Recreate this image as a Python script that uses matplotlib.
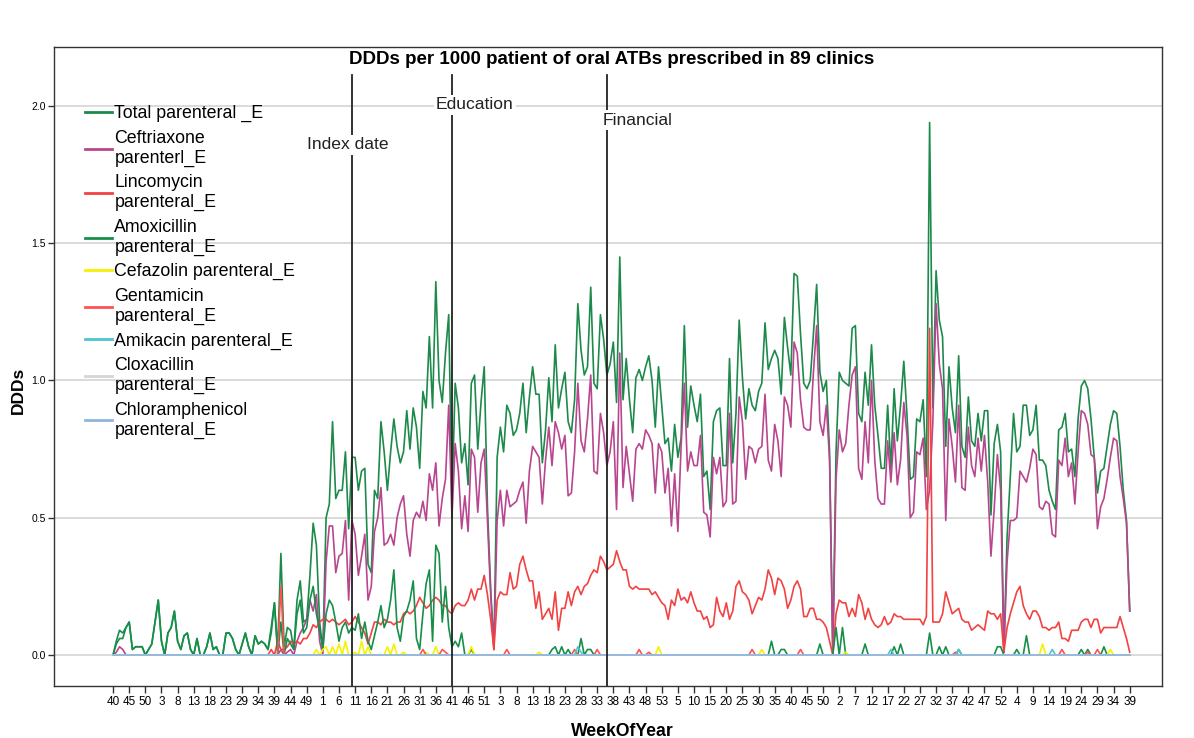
# DDDs per 1000 patient of parenteral ATBs - weekly line chart (SPSS style)

import numpy as np
import matplotlib
matplotlib.use("Agg")
import matplotlib.pyplot as plt

plt.rcParams['font.family'] = ['Liberation Sans', 'DejaVu Sans']

# ================================
# DATA (one value per week)
# ================================

week_labels = ["40", "45", "50", "3", "8", "13", "18", "23", "29", "34", "39", "44", "49",
               "1", "6", "11", "16", "21", "26", "31", "36", "41", "46", "51",
               "3", "8", "13", "18", "23", "28", "33", "38", "43", "48", "53",
               "5", "10", "15", "20", "25", "30", "35", "40", "45", "50",
               "2", "7", "12", "17", "22", "27", "32", "37", "42", "47", "52",
               "4", "9", "14", "19", "24", "29", "34", "39"]

total_parenteral = [
    0.00, 0.05, 0.09, 0.08, 0.10, 0.12, 0.02, 0.03, 0.03, 0.03, 0.00, 0.02, 0.04, 0.12, 0.20, 0.05, 0.00, 0.08, 0.10, 0.16,
    0.05, 0.02, 0.07, 0.08, 0.02, 0.00, 0.06, 0.00, 0.00, 0.03, 0.08, 0.02, 0.03, 0.00, 0.00, 0.08, 0.08, 0.06, 0.02, 0.00,
    0.04, 0.08, 0.03, 0.00, 0.07, 0.04, 0.05, 0.04, 0.02, 0.10, 0.19, 0.02, 0.37, 0.03, 0.10, 0.09, 0.02, 0.20, 0.27, 0.12,
    0.13, 0.29, 0.48, 0.40, 0.12, 0.02, 0.50, 0.55, 0.85, 0.57, 0.60, 0.60, 0.74, 0.46, 0.72, 0.72, 0.60, 0.67, 0.68, 0.33,
    0.30, 0.60, 0.57, 0.85, 0.74, 0.60, 0.74, 0.86, 0.76, 0.70, 0.74, 0.89, 0.75, 0.90, 0.83, 0.68, 0.96, 0.90, 1.16, 0.90,
    1.36, 1.00, 0.92, 1.10, 1.24, 0.56, 0.99, 0.90, 0.70, 0.77, 0.62, 0.99, 1.02, 0.75, 0.92, 1.05, 0.54, 0.24, 0.02, 0.72,
    0.83, 0.74, 0.91, 0.88, 0.80, 0.82, 0.88, 0.99, 0.81, 0.94, 1.05, 0.95, 0.95, 0.70, 0.82, 1.01, 0.85, 1.13, 0.90, 0.97,
    1.03, 0.85, 0.81, 0.93, 1.28, 1.11, 1.02, 1.05, 1.34, 0.99, 0.97, 1.24, 1.15, 1.02, 1.06, 1.14, 0.92, 1.45, 0.93, 1.08,
    0.93, 0.81, 1.01, 1.04, 1.00, 1.05, 1.09, 1.00, 0.83, 1.05, 0.91, 0.77, 0.79, 0.67, 0.84, 0.72, 0.79, 1.20, 0.83, 0.98,
    0.91, 0.85, 0.95, 0.65, 0.67, 0.53, 0.85, 0.89, 0.90, 0.69, 0.69, 1.08, 0.70, 0.88, 1.22, 1.01, 0.86, 0.97, 0.91, 0.89,
    0.96, 0.99, 1.21, 1.04, 1.08, 1.11, 1.08, 0.95, 1.23, 1.12, 1.02, 1.39, 1.38, 1.17, 0.99, 0.97, 1.00, 1.17, 1.35, 1.03,
    0.96, 1.00, 0.74, 0.00, 0.74, 1.03, 1.00, 0.99, 0.98, 1.19, 1.20, 0.88, 0.85, 1.03, 0.91, 1.13, 0.91, 0.80, 0.68, 0.68,
    0.91, 0.68, 0.97, 0.78, 0.91, 1.07, 0.87, 0.64, 0.65, 0.86, 0.85, 0.93, 0.65, 1.94, 0.90, 1.40, 1.22, 1.16, 0.76, 1.05,
    0.90, 0.81, 1.09, 0.76, 0.72, 0.94, 0.78, 0.76, 0.88, 0.78, 0.89, 0.89, 0.51, 0.77, 0.84, 0.74, 0.01, 0.43, 0.65, 0.88,
    0.74, 0.76, 0.91, 0.91, 0.80, 0.82, 0.91, 0.71, 0.71, 0.69, 0.60, 0.56, 0.53, 0.82, 0.83, 0.88, 0.74, 0.75, 0.65, 0.86,
    0.98, 1.00, 0.97, 0.86, 0.72, 0.59, 0.67, 0.68, 0.76, 0.84, 0.89, 0.88, 0.76, 0.60, 0.49, 0.16]

ceftriaxone = [
    0.00, 0.01, 0.03, 0.02, 0.00, 0.00, 0.00, 0.00, 0.00, 0.00, 0.00, 0.00, 0.00, 0.00, 0.00, 0.00, 0.00, 0.00, 0.00, 0.00,
    0.00, 0.00, 0.00, 0.00, 0.00, 0.00, 0.00, 0.00, 0.00, 0.00, 0.00, 0.00, 0.00, 0.00, 0.00, 0.00, 0.00, 0.00, 0.00, 0.00,
    0.00, 0.00, 0.00, 0.00, 0.00, 0.00, 0.00, 0.00, 0.00, 0.00, 0.00, 0.00, 0.02, 0.00, 0.01, 0.02, 0.00, 0.05, 0.08, 0.10,
    0.13, 0.20, 0.16, 0.22, 0.05, 0.00, 0.34, 0.47, 0.47, 0.30, 0.36, 0.37, 0.49, 0.20, 0.49, 0.44, 0.29, 0.36, 0.44, 0.20,
    0.25, 0.45, 0.50, 0.61, 0.40, 0.41, 0.44, 0.40, 0.50, 0.55, 0.58, 0.44, 0.36, 0.49, 0.52, 0.50, 0.56, 0.49, 0.66, 0.60,
    0.70, 0.47, 0.57, 0.64, 0.91, 0.50, 0.77, 0.67, 0.46, 0.58, 0.45, 0.75, 0.72, 0.52, 0.70, 0.75, 0.49, 0.22, 0.02, 0.49,
    0.60, 0.47, 0.60, 0.54, 0.55, 0.56, 0.60, 0.63, 0.48, 0.67, 0.76, 0.74, 0.72, 0.55, 0.71, 0.83, 0.69, 0.85, 0.81, 0.75,
    0.80, 0.58, 0.59, 0.74, 0.99, 0.78, 0.74, 0.86, 1.02, 0.67, 0.66, 0.88, 0.81, 0.69, 0.74, 0.85, 0.53, 1.10, 0.61, 0.76,
    0.66, 0.56, 0.75, 0.77, 0.75, 0.82, 0.80, 0.77, 0.59, 0.77, 0.74, 0.59, 0.68, 0.47, 0.66, 0.45, 0.76, 0.99, 0.67, 0.74,
    0.69, 0.69, 0.80, 0.52, 0.51, 0.43, 0.72, 0.66, 0.72, 0.54, 0.56, 0.88, 0.55, 0.56, 0.94, 0.85, 0.64, 0.76, 0.75, 0.70,
    0.75, 0.76, 0.95, 0.71, 0.67, 0.84, 0.78, 0.65, 0.94, 0.91, 0.83, 1.14, 1.10, 0.93, 0.83, 0.82, 0.82, 1.03, 1.20, 0.85,
    0.80, 0.91, 0.71, 0.00, 0.64, 0.82, 0.74, 0.77, 0.91, 1.02, 1.05, 0.68, 0.64, 0.85, 0.70, 1.00, 0.71, 0.57, 0.55, 0.55,
    0.78, 0.63, 0.81, 0.62, 0.71, 0.92, 0.80, 0.50, 0.52, 0.74, 0.73, 0.79, 0.53, 0.60, 0.85, 1.28, 1.06, 0.97, 0.49, 0.86,
    0.76, 0.63, 0.91, 0.61, 0.60, 0.83, 0.69, 0.65, 0.79, 0.67, 0.80, 0.63, 0.36, 0.53, 0.73, 0.60, 0.01, 0.34, 0.49, 0.49,
    0.50, 0.67, 0.65, 0.63, 0.68, 0.75, 0.73, 0.54, 0.53, 0.56, 0.55, 0.44, 0.43, 0.71, 0.69, 0.79, 0.65, 0.70, 0.55, 0.74,
    0.89, 0.88, 0.84, 0.73, 0.72, 0.46, 0.54, 0.57, 0.64, 0.72, 0.79, 0.78, 0.65, 0.57, 0.48, 0.16]

lincomycin = [
    0.00, 0.00, 0.00, 0.00, 0.00, 0.00, 0.00, 0.00, 0.00, 0.00, 0.00, 0.00, 0.00, 0.00, 0.00, 0.00, 0.00, 0.00, 0.00, 0.00,
    0.00, 0.00, 0.00, 0.00, 0.00, 0.00, 0.00, 0.00, 0.00, 0.00, 0.00, 0.00, 0.00, 0.00, 0.00, 0.00, 0.00, 0.00, 0.00, 0.00,
    0.00, 0.00, 0.00, 0.00, 0.00, 0.00, 0.00, 0.00, 0.00, 0.02, 0.00, 0.05, 0.02, 0.02, 0.03, 0.05, 0.04, 0.05, 0.04, 0.06,
    0.06, 0.08, 0.11, 0.10, 0.12, 0.13, 0.13, 0.12, 0.13, 0.12, 0.11, 0.12, 0.13, 0.11, 0.12, 0.14, 0.12, 0.10, 0.08, 0.04,
    0.08, 0.12, 0.12, 0.11, 0.13, 0.12, 0.12, 0.11, 0.12, 0.12, 0.15, 0.16, 0.15, 0.16, 0.18, 0.21, 0.19, 0.17, 0.18, 0.20,
    0.21, 0.20, 0.18, 0.18, 0.16, 0.15, 0.18, 0.19, 0.18, 0.18, 0.20, 0.24, 0.20, 0.24, 0.24, 0.29, 0.22, 0.13, 0.02, 0.20,
    0.23, 0.22, 0.22, 0.30, 0.24, 0.25, 0.33, 0.36, 0.31, 0.27, 0.27, 0.17, 0.23, 0.13, 0.15, 0.17, 0.13, 0.23, 0.09, 0.17,
    0.17, 0.23, 0.18, 0.23, 0.25, 0.22, 0.25, 0.26, 0.29, 0.31, 0.30, 0.36, 0.34, 0.31, 0.32, 0.33, 0.38, 0.34, 0.31, 0.31,
    0.25, 0.24, 0.25, 0.24, 0.24, 0.24, 0.24, 0.22, 0.23, 0.21, 0.19, 0.18, 0.13, 0.20, 0.18, 0.24, 0.20, 0.21, 0.19, 0.23,
    0.19, 0.16, 0.16, 0.13, 0.14, 0.10, 0.11, 0.21, 0.16, 0.14, 0.19, 0.13, 0.16, 0.25, 0.27, 0.23, 0.22, 0.20, 0.15, 0.18,
    0.21, 0.20, 0.24, 0.31, 0.28, 0.22, 0.28, 0.27, 0.24, 0.17, 0.20, 0.25, 0.27, 0.24, 0.14, 0.14, 0.17, 0.17, 0.13, 0.13,
    0.12, 0.10, 0.05, 0.00, 0.15, 0.20, 0.19, 0.19, 0.14, 0.17, 0.14, 0.22, 0.19, 0.13, 0.17, 0.13, 0.11, 0.10, 0.11, 0.14,
    0.11, 0.12, 0.15, 0.14, 0.14, 0.13, 0.13, 0.13, 0.13, 0.13, 0.13, 0.11, 0.14, 1.19, 0.12, 0.12, 0.12, 0.15, 0.23, 0.19,
    0.15, 0.16, 0.17, 0.13, 0.12, 0.12, 0.09, 0.10, 0.11, 0.10, 0.09, 0.16, 0.15, 0.15, 0.13, 0.15, 0.01, 0.10, 0.15, 0.19,
    0.23, 0.25, 0.18, 0.15, 0.13, 0.16, 0.16, 0.14, 0.10, 0.10, 0.09, 0.10, 0.10, 0.12, 0.06, 0.06, 0.05, 0.09, 0.09, 0.09,
    0.12, 0.13, 0.13, 0.10, 0.13, 0.13, 0.08, 0.10, 0.10, 0.10, 0.10, 0.10, 0.14, 0.10, 0.06, 0.01]

amoxicillin = [
    0.00, 0.04, 0.06, 0.06, 0.10, 0.12, 0.02, 0.03, 0.03, 0.03, 0.00, 0.02, 0.04, 0.12, 0.20, 0.05, 0.00, 0.08, 0.10, 0.16,
    0.05, 0.02, 0.07, 0.08, 0.02, 0.00, 0.06, 0.00, 0.00, 0.03, 0.08, 0.02, 0.03, 0.00, 0.00, 0.08, 0.08, 0.06, 0.02, 0.00,
    0.04, 0.08, 0.03, 0.00, 0.07, 0.04, 0.05, 0.04, 0.02, 0.08, 0.19, 0.00, 0.12, 0.00, 0.06, 0.04, 0.02, 0.15, 0.20, 0.08,
    0.10, 0.20, 0.25, 0.15, 0.09, 0.02, 0.15, 0.20, 0.18, 0.12, 0.05, 0.10, 0.12, 0.08, 0.10, 0.09, 0.15, 0.06, 0.12, 0.05,
    0.02, 0.07, 0.12, 0.18, 0.10, 0.13, 0.20, 0.31, 0.10, 0.05, 0.14, 0.16, 0.20, 0.27, 0.06, 0.02, 0.15, 0.26, 0.31, 0.05,
    0.40, 0.37, 0.12, 0.25, 0.10, 0.03, 0.05, 0.03, 0.08, 0.00, 0.00, 0.02, 0.00, 0.00, 0.00, 0.00, 0.00, 0.00, 0.00, 0.00,
    0.00, 0.00, 0.00, 0.00, 0.00, 0.00, 0.00, 0.00, 0.00, 0.00, 0.00, 0.00, 0.00, 0.00, 0.00, 0.00, 0.02, 0.03, 0.00, 0.03,
    0.00, 0.02, 0.00, 0.00, 0.00, 0.06, 0.00, 0.02, 0.02, 0.00, 0.00, 0.00, 0.00, 0.00, 0.00, 0.00, 0.00, 0.00, 0.00, 0.00,
    0.00, 0.00, 0.00, 0.00, 0.00, 0.00, 0.00, 0.00, 0.00, 0.00, 0.00, 0.00, 0.00, 0.00, 0.00, 0.00, 0.00, 0.00, 0.00, 0.00,
    0.00, 0.00, 0.00, 0.00, 0.00, 0.00, 0.00, 0.00, 0.00, 0.00, 0.00, 0.00, 0.00, 0.00, 0.00, 0.00, 0.00, 0.00, 0.00, 0.00,
    0.00, 0.00, 0.00, 0.00, 0.05, 0.00, 0.00, 0.02, 0.02, 0.00, 0.00, 0.00, 0.00, 0.00, 0.00, 0.00, 0.00, 0.00, 0.00, 0.04,
    0.00, 0.00, 0.00, 0.00, 0.10, 0.00, 0.10, 0.00, 0.00, 0.00, 0.00, 0.00, 0.00, 0.04, 0.00, 0.00, 0.00, 0.00, 0.00, 0.00,
    0.00, 0.00, 0.03, 0.00, 0.04, 0.00, 0.00, 0.00, 0.00, 0.00, 0.00, 0.00, 0.00, 0.08, 0.00, 0.00, 0.03, 0.00, 0.03, 0.00,
    0.00, 0.00, 0.02, 0.00, 0.00, 0.00, 0.00, 0.00, 0.00, 0.00, 0.00, 0.00, 0.00, 0.00, 0.03, 0.03, 0.00, 0.00, 0.00, 0.00,
    0.02, 0.00, 0.00, 0.07, 0.00, 0.00, 0.00, 0.00, 0.00, 0.00, 0.00, 0.00, 0.00, 0.00, 0.00, 0.00, 0.00, 0.00, 0.00, 0.00,
    0.02, 0.00, 0.02, 0.00, 0.00, 0.00, 0.00, 0.03, 0.00, 0.00, 0.00, 0.00, 0.00, 0.00, 0.00, 0.00]

# minor series are zero except for a few small blips: {week index: DDDs}
cefazolin_blips = {63: 0.02, 65: 0.02, 66: 0.03, 68: 0.03, 70: 0.04, 72: 0.05, 75: 0.01, 77: 0.05,
                   79: 0.03, 85: 0.03, 87: 0.04, 90: 0.01, 97: 0.01, 100: 0.03, 111: 0.03, 132: 0.01,
                   169: 0.03, 201: 0.02, 227: 0.01, 288: 0.04, 309: 0.02}
gentamicin_blips = {52: 0.25, 96: 0.02, 102: 0.02, 103: 0.01, 122: 0.02, 143: 0.02, 150: 0.02,
                    163: 0.02, 166: 0.01, 198: 0.02, 213: 0.02, 261: 0.01, 294: 0.02, 302: 0.01, 305: 0.02}
amikacin_blips = {144: 0.03, 145: 0.01, 241: 0.02, 262: 0.02, 291: 0.02}
cloxacillin_blips = {}
chloramphenicol_blips = {}

series_names = ["Total parenteral _E", "Ceftriaxone\nparenterl_E", "Lincomycin\nparenteral_E",
                "Amoxicillin\nparenteral_E", "Cefazolin parenteral_E", "Gentamicin\nparenteral_E",
                "Amikacin parenteral_E", "Cloxacillin\nparenteral_E", "Chloramphenicol\nparenteral_E"]
series_colors = ["#1d8a4b", "#b8468f", "#f24242", "#168f4a", "#f5f200",
                 "#ff5252", "#4cc6cf", "#d6d6d6", "#8fb6dd"]

events = ["Index date", "Education", "Financial"]
event_weeks = [74, 105, 153]


def from_blips(blips, n):
    arr = np.zeros(n)
    for k, v in blips.items():
        arr[k] = v
    return arr


n_weeks = len(total_parenteral)
assert len(ceftriaxone) == n_weeks and len(lincomycin) == n_weeks and len(amoxicillin) == n_weeks
x = np.arange(n_weeks)

all_series = [total_parenteral, ceftriaxone, lincomycin, amoxicillin,
              from_blips(cefazolin_blips, n_weeks), from_blips(gentamicin_blips, n_weeks),
              from_blips(amikacin_blips, n_weeks), from_blips(cloxacillin_blips, n_weeks),
              from_blips(chloramphenicol_blips, n_weeks)]

# ================================
# PLOT
# ================================

fig = plt.figure(figsize=(11.94, 7.38), dpi=100)
ax = fig.add_axes([54 / 1194, 52 / 738, 1108 / 1194, 639 / 738])

ax.set_xlim(-18.3, 325)
ax.set_ylim(-0.113, 2.215)

for yv in [0.0, 0.5, 1.0, 1.5, 2.0]:
    ax.axhline(yv, color="#d8d8d8", lw=1.3, zorder=0)

for vals, name, col in zip(all_series, series_names, series_colors):
    ax.plot(x, vals, color=col, lw=1.2, label=name)

# intervention lines
label_pos = [(72.8, 1.858), (112.1, 2.004), (162.6, 1.949)]
for wk, txt, (tx, ty) in zip(event_weeks, events, label_pos):
    ax.axvline(wk, ymax=0.956, color="#222222", lw=1.3, zorder=5)
    ax.text(tx, ty, txt, ha="center", va="center", fontsize=12.6, color="#222222", zorder=6,
            bbox=dict(facecolor="white", edgecolor="none", pad=1.5))

ax.set_xticks(np.arange(0, n_weeks, 5))
ax.set_xticklabels(week_labels, fontsize=8.5)
ax.set_yticks([0.0, 0.5, 1.0, 1.5, 2.0])
ax.set_yticklabels(["0.0", "0.5", "1.0", "1.5", "2.0"], fontsize=7.5)
ax.tick_params(axis="x", length=5, width=1, color="#333333", pad=2)
ax.tick_params(axis="y", length=4, width=1, color="#333333", pad=2)

for side in ["left", "bottom", "right", "top"]:
    ax.spines[side].set_color("#333333")
    ax.spines[side].set_linewidth(1.0)

leg = ax.legend(loc="upper left", bbox_to_anchor=(0.028, 0.909), frameon=False, fontsize=12.8,
                handlelength=1.5, handletextpad=0.15, labelspacing=0.43, borderpad=0, borderaxespad=0)
for t in leg.get_texts():
    t.set_linespacing(1.2)
for line in leg.get_lines():
    line.set_linewidth(2.0)

fig.text(612 / 1194, 1 - 59 / 738, "DDDs per 1000 patient of oral ATBs prescribed in 89 clinics",
         ha="center", va="center", fontsize=13.5, fontweight="bold")
fig.text(18 / 1194, 1 - 390 / 738, "DDDs", rotation=90, ha="center", va="center",
         fontsize=12.5, fontweight="bold")
fig.text(622 / 1194, 1 - 731 / 738, "WeekOfYear", ha="center", va="center",
         fontsize=12.7, fontweight="bold")

fig.savefig("out.png", dpi=100)
